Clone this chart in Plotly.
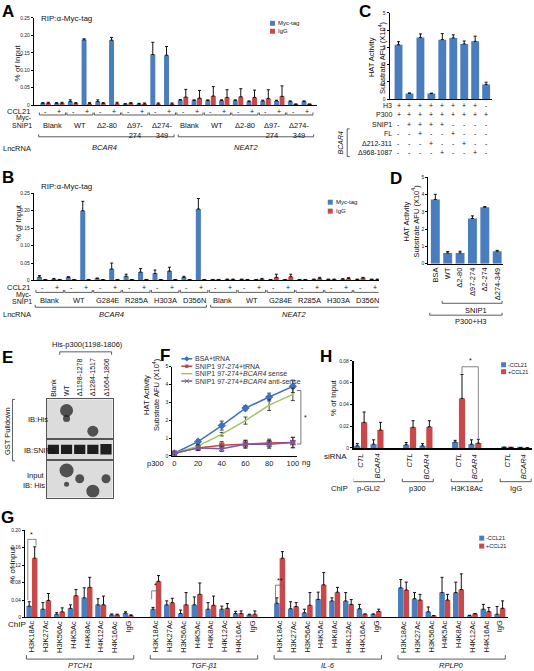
import plotly.graph_objects as go

W, H = 534, 671
FONT = "Liberation Sans, Arial, Helvetica, sans-serif"
BLUE = "#4a7dbd"
RED = "#c9484a"
ERR = "#111111"

# ---------------- data ----------------
# Panel A
A_conditions = ["Blank", "WT", "Δ2-80", "Δ97-<br>274", "Δ274-<br>349"]
A_lncrna = ["BCAR4", "NEAT2"]
A_ccl21 = ["-", "+"]
A_myc = [0.005, 0.005, 0.010, 0.187, 0.010, 0.186, 0.003, 0.003, 0.145, 0.143,
         0.014, 0.013, 0.013, 0.013, 0.013, 0.010, 0.012, 0.012, 0.010, 0.010]
A_myc_err = [0.002, 0.002, 0.005, 0.003, 0.005, 0.008, 0.001, 0.002, 0.035, 0.025,
             0.002, 0.002, 0.002, 0.002, 0.002, 0.002, 0.002, 0.002, 0.002, 0.002]
A_igg = [0.005, 0.005, 0.005, 0.004, 0.005, 0.004, 0.005, 0.003, 0.003, 0.003,
         0.023, 0.020, 0.026, 0.022, 0.024, 0.022, 0.019, 0.025, 0.002, 0.002]
A_igg_err = [0.003, 0.003, 0.002, 0.003, 0.002, 0.004, 0.002, 0.003, 0.003, 0.003,
             0.022, 0.022, 0.027, 0.022, 0.023, 0.021, 0.025, 0.030, 0.001, 0.001]

# Panel B
B_conditions = ["Blank", "WT", "G284E", "R285A", "H303A", "D356N"]
B_myc = [0.010, 0.004, 0.009, 0.200, 0.006, 0.033, 0.012, 0.024, 0.020, 0.027, 0.009, 0.205,
         0.002, 0.003, 0.003, 0.002, 0.002, 0.002, 0.002, 0.003, 0.003, 0.004, 0.003, 0.003]
B_myc_err = [0.004, 0.002, 0.002, 0.027, 0.001, 0.017, 0.006, 0.010, 0.010, 0.011, 0.003, 0.030,
             0.001, 0.001, 0.001, 0.001, 0.001, 0.001, 0.001, 0.001, 0.001, 0.001, 0.001, 0.001]
B_igg = [0.002] * 12 + [0.002, 0.003, 0.002, 0.004, 0.009, 0.011, 0.002, 0.006, 0.003, 0.006, 0.007, 0.003]
B_igg_err = [0.001] * 12 + [0.001, 0.001, 0.001, 0.002, 0.009, 0.007, 0.001, 0.003, 0.001, 0.002, 0.002, 0.001]

# Panel C
C_values = [3.15, 0.33, 3.58, 0.32, 3.45, 3.55, 3.20, 3.35, 0.85]
C_err = [0.18, 0.03, 0.20, 0.03, 0.35, 0.18, 0.17, 0.30, 0.13]
C_row_names = ["H3", "P300", "SNIP1", "FL", "Δ212-311", "Δ968-1087"]
C_rows = [
    ["+", "+", "+", "+", "+", "+", "+", "+", "-"],
    ["+", "+", "+", "+", "+", "+", "+", "+", "+"],
    ["-", "+", "+", "+", "+", "-", "-", "-", "-"],
    ["-", "-", "+", "-", "-", "+", "-", "-", "-"],
    ["-", "-", "-", "+", "-", "-", "+", "-", "-"],
    ["-", "-", "-", "-", "+", "-", "-", "+", "-"],
]

# Panel D
D_labels = ["BSA", "WT", "Δ2-80", "Δ97-274", "Δ2-274", "Δ274-349"]
D_values = [3.72, 0.62, 0.62, 2.62, 3.27, 0.72]
D_err = [0.30, 0.08, 0.10, 0.15, 0.04, 0.05]

# Panel E (blot band positions, lane index / relative height / blob size)
E_lanes = ["Blank", "WT", "Δ1198-1278", "Δ1284-1517", "Δ1664-1806"]
E_his_lane = [1, 1, 3]
E_his_pos = [0.72, 0.52, 0.2]
E_his_size = [13, 7, 11]
E_snip_lane = [0, 1, 2, 3, 4]
E_snip_base = [0.28, 0.28, 0.28, 0.28, 0.26]
E_snip_h = [0.45, 0.45, 0.45, 0.45, 0.5]
E_inp_lane = [1, 1, 2, 3, 4]
E_inp_pos = [0.72, 0.35, 0.5, 0.17, 0.5]
E_inp_size = [14, 5, 9, 13, 9]

# Panel F
F_x = [0, 20, 40, 60, 80, 100]
F_names = ["BSA+tRNA", "SNIP1 97-274+tRNA", "SNIP1 97-274+<i>BCAR4</i> sense",
           "SNIP1 97-274+<i>BCAR4</i> anti-sense"]
F_bsa = [0.15, 0.80, 1.70, 2.68, 3.30, 3.90]
F_bsa_err = [0.08, 0.12, 0.25, 0.15, 0.22, 0.35]
F_trna = [0.15, 0.45, 0.60, 0.68, 0.72, 0.75]
F_trna_err = [0.06, 0.15, 0.20, 0.20, 0.22, 0.28]
F_sense = [0.15, 0.55, 1.22, 1.98, 2.85, 3.45]
F_sense_err = [0.06, 0.08, 0.10, 0.20, 0.30, 0.35]
F_anti = [0.15, 0.45, 0.40, 0.65, 0.65, 0.75]
F_anti_err = [0.05, 0.15, 0.15, 0.22, 0.22, 0.30]

# Panel H
H_chip = ["p-GLI2", "p300", "H3K18Ac", "IgG"]
H_sirna = ["CTL", "BCAR4"]
H_minus = [0.002, 0.0035, 0.003, 0.002, 0.0055, 0.0035, 0.0006, 0.0003]
H_minus_err = [0.002, 0.004, 0.002, 0.002, 0.0015, 0.004, 0.0002, 0.0001]
H_plus = [0.0235, 0.0165, 0.019, 0.0195, 0.0455, 0.0045, 0.0004, 0.0002]
H_plus_err = [0.0095, 0.007, 0.006, 0.0055, 0.022, 0.0035, 0.0002, 0.0001]

# Panel G
G_genes = ["PTCH1", "TGF-β1", "IL-6", "RPLP0"]
G_marks = ["H3K18Ac", "H3K27Ac", "H3K56Ac", "H4K5Ac", "H4K8Ac", "H4K12Ac", "H4K16Ac", "IgG"]
G_minus = [0.026, 0.019, 0.0075, 0.021, 0.045, 0.029, 0.006, 0.010,
           0.019, 0.029, 0.009, 0.029, 0.019, 0.019, 0.009, 0.006,
           0.0325, 0.020, 0.011, 0.0415, 0.038, 0.038, 0.020, 0.0075,
           0.068, 0.043, 0.013, 0.057, 0.057, 0.0045, 0.019, 0.0075]
G_minus_err = [0.010, 0.015, 0.0035, 0.008, 0.023, 0.014, 0.002, 0.003,
               0.004, 0.009, 0.008, 0.018, 0.015, 0.007, 0.005, 0.0015,
               0.0125, 0.016, 0.008, 0.0165, 0.007, 0.019, 0.010, 0.0005,
               0.019, 0.014, 0.011, 0.035, 0.024, 0.0005, 0.011, 0.0175]
G_plus = [0.136, 0.039, 0.013, 0.050, 0.069, 0.029, 0.006, 0.0045,
          0.083, 0.034, 0.029, 0.053, 0.028, 0.021, 0.009, 0.0075,
          0.136, 0.025, 0.028, 0.075, 0.058, 0.030, 0.0075, 0.014,
          0.063, 0.040, 0.004, 0.040, 0.064, 0.0083, 0.0136, 0.021]
G_plus_err = [0.026, 0.016, 0.009, 0.014, 0.023, 0.020, 0.0015, 0.0015,
              0.013, 0.010, 0.028, 0.026, 0.021, 0.011, 0.006, 0.0075,
              0.015, 0.009, 0.029, 0.028, 0.011, 0.011, 0.0005, 0.005,
              0.018, 0.013, 0.0005, 0.013, 0.036, 0.0007, 0.0094, 0.017]
G_sig = {0: "*", 9: "*", 18: "**"}

# ---------------- helpers ----------------
ann, shapes = [], []
layout = {}
fig = go.Figure()


def X(p):
    return p / W


def Y(p):
    return 1 - p / H


def T(x, y, s, size=7, xa="center", ya="middle", ang=0, xref="paper", yref="paper", color="#111"):
    ann.append(dict(x=X(x) if xref == "paper" else x, y=Y(y) if yref == "paper" else y,
                    xref=xref, yref=yref, text=s, showarrow=False, textangle=ang,
                    xanchor=xa, yanchor=ya, borderpad=0,
                    font=dict(family=FONT, size=size, color=color)))


def P(points, xref="paper", yref="paper", w=0.8, color="#333"):
    pts = [(X(a) if xref == "paper" else a, Y(b) if yref == "paper" else b) for a, b in points]
    path = "M " + " L ".join(f"{a},{b}" for a, b in pts)
    shapes.append(dict(type="path", path=path, xref=xref, yref=yref,
                       line=dict(color=color, width=w)))


def R(x0, y0, x1, y1, color, layer="above"):
    shapes.append(dict(type="rect", xref="paper", yref="paper", x0=X(x0), x1=X(x1),
                       y0=Y(y0), y1=Y(y1), fillcolor=color, layer=layer,
                       line=dict(width=0, color=color)))


def bracket_up(x0, x1, y, t=2.5, xref="paper"):
    P([(x0, y - t), (x0, y), (x1, y), (x1, y - t)], xref=xref)


def axis(n, xd, yd, xr, yr, yt=None, ytt=None, yfs=5, yticks=True):
    xk = "xaxis" if n == 1 else f"xaxis{n}"
    yk = "yaxis" if n == 1 else f"yaxis{n}"
    layout[xk] = dict(domain=[X(xd[0]), X(xd[1])], range=xr, anchor="y" if n == 1 else f"y{n}",
                      showline=True, linecolor="black", linewidth=1, showticklabels=False,
                      ticks="", showgrid=False, zeroline=False, fixedrange=True)
    layout[yk] = dict(domain=[Y(yd[1]), Y(yd[0])], range=yr, anchor="x" if n == 1 else f"x{n}",
                      showline=True, linecolor="black", linewidth=1,
                      ticks="outside" if yticks else "", ticklen=2, tickwidth=0.8, tickcolor="black",
                      tickvals=yt, ticktext=ytt, showticklabels=yt is not None,
                      tickfont=dict(size=yfs, family=FONT, color="#222"),
                      showgrid=False, zeroline=False, fixedrange=True)


def ax(n):
    return ("x", "y") if n == 1 else (f"x{n}", f"y{n}")


def bars(n, xs, ys, err, color, offset, width):
    xa, ya = ax(n)
    fig.add_trace(go.Bar(x=xs, y=ys, xaxis=xa, yaxis=ya, width=width, offset=offset,
                         marker=dict(color=color, line=dict(width=0)),
                         error_y=dict(type="data", array=err, arrayminus=[0] * len(err),
                                      symmetric=False, color=ERR, thickness=1, width=1.5),
                         showlegend=False, hoverinfo="skip"))


# ---------------- Panel A ----------------
axis(1, (34, 318), (15, 103), [-0.85, 19.73], [0, 0.25],
     [0, 0.05, 0.10, 0.15, 0.20, 0.25], ["0", "0.05", "0.10", "0.15", "0.20", "0.25"])
A_x = list(range(len(A_myc)))
bars(1, A_x, A_myc, A_myc_err, BLUE, -0.38, 0.36)
bars(1, A_x, A_igg, A_igg_err, RED, 0.02, 0.36)
T(8, 9, "<b>A</b>", size=17, color="black")
T(40, 16, "RIP:α-Myc-tag", size=8, xa="left")
T(18, 60, "% of Input", size=8, ang=-90)
T(31, 109, "CCL21", size=7.5, xa="right")
T(33, 116.5, "Myc-", size=7, xa="right")
T(33, 124, "SNIP1", size=7, xa="right")
T(2, 147, "LncRNA", size=7.5, xa="left")
for i in A_x:
    T(i, 109, A_ccl21[i % 2], size=7, xref="x")
for k in range(len(A_x) // 2):
    bracket_up(2 * k - 0.45, 2 * k + 1.45, 113, xref="x")
    T(2 * k + 0.5, 118, A_conditions[k % len(A_conditions)], size=7.5, ya="top", xref="x")
bracket_up(-0.5, 9.35, 135, xref="x")
bracket_up(9.65, 19.5, 135, xref="x")
T(105, 146, "<i>BCAR4</i>", size=7.5)
T(247, 146, "<i>NEAT2</i>", size=7.5)
R(271, 18, 276, 23, BLUE)
R(271, 26, 276, 31, RED)
T(278, 20.5, "Myc-tag", size=6, xa="left")
T(278, 28.5, "IgG", size=6, xa="left")

# ---------------- Panel B ----------------
axis(2, (34, 380), (192, 280), [-0.59, 23.27], [0, 0.25],
     [0, 0.05, 0.10, 0.15, 0.20, 0.25], ["0", "0.05", "0.10", "0.15", "0.20", "0.25"])
B_x = list(range(len(B_myc)))
bars(2, B_x, B_myc, B_myc_err, BLUE, -0.38, 0.35)
bars(2, B_x, B_igg, B_igg_err, RED, 0.02, 0.35)
T(8, 176, "<b>B</b>", size=17, color="black")
T(40, 185, "RIP:α-Myc-tag", size=8, xa="left")
T(18, 221, "% of Input", size=8, ang=-90)
T(31, 287, "CCL21", size=7.5, xa="right")
T(33, 294.5, "Myc-", size=7, xa="right")
T(33, 301.5, "SNIP1", size=7, xa="right")
T(2, 314, "LncRNA", size=7.5, xa="left")
for i in B_x:
    T(i, 287, A_ccl21[i % 2], size=7, xref="x2")
for k in range(len(B_x) // 2):
    bracket_up(2 * k - 0.45, 2 * k + 1.45, 292, xref="x2")
    T(2 * k + 0.5, 300, B_conditions[k % len(B_conditions)], size=7.5, xref="x2")
bracket_up(-0.5, 11.35, 307, xref="x2")
bracket_up(11.65, 23.5, 307, xref="x2")
T(112, 314, "<i>BCAR4</i>", size=7.5)
T(295, 314, "<i>NEAT2</i>", size=7.5)
R(329, 198.5, 334, 203.5, BLUE)
R(329, 207.5, 334, 212.5, RED)
T(336, 201, "Myc-tag", size=6, xa="left")
T(336, 210, "IgG", size=6, xa="left")

# ---------------- Panel C ----------------
axis(3, (391, 494), (10, 97), [-0.82, 8.55], [0, 5],
     [0, 1, 2, 3, 4, 5], ["0", "1", "2", "3", "4", "5"])
C_x = list(range(len(C_values)))
bars(3, C_x, C_values, C_err, BLUE, -0.36, 0.72)
T(366, 9, "<b>C</b>", size=17, color="black")
T(373, 55, "HAT Activity", size=7.5, ang=-90)
T(383, 55, "Substrate AFU (X10<sup>4</sup>)", size=7.5, ang=-90)
C_row_y = [103, 112.6, 122.2, 131.8, 141.4, 151]
for r, name in enumerate(C_row_names):
    T(394, C_row_y[r], name, size=7, xa="right")
    for j, s in enumerate(C_rows[r]):
        T(j, C_row_y[r], s, size=7, xref="x3")
T(342, 141, "<i>BCAR4</i>", size=7, ang=-90)
P([(351, 127), (348.5, 127), (348.5, 155), (351, 155)])

# ---------------- Panel D ----------------
axis(4, (430, 505), (176, 263), [-0.56, 5.48], [0, 5],
     [0, 1, 2, 3, 4, 5], ["0", "1", "2", "3", "4", "5"])
D_x = list(range(len(D_values)))
bars(4, D_x, D_values, D_err, BLUE, -0.36, 0.72)
T(397, 177, "<b>D</b>", size=17, color="black")
T(408, 220, "HAT Activity", size=7.5, ang=-90)
T(417, 220, "Substrate AFU (X10<sup>4</sup>)", size=7.5, ang=-90)
for i, lab in enumerate(D_labels):
    T(i, 266, lab, size=7.5, ang=-90, ya="top", xref="x4")
bracket_up(0.55, 5.4, 303, xref="x4")
T(478, 310, "SNIP1", size=7.5)
bracket_up(-0.45, 5.4, 315, xref="x4")
T(472, 321, "P300+H3", size=7.5)

# ---------------- Panel E (blot) ----------------
for n, (y0, y1) in zip((5, 6, 7), ((400, 440), (440, 461), (461, 499))):
    axis(n, (47, 113), (y0, y1), [-0.5, 4.5], [0, 1], yticks=False)
    layout[f"xaxis{n}"].update(mirror=True, linecolor="#555", linewidth=1)
    layout[f"yaxis{n}"].update(mirror=True, linecolor="#555", linewidth=1)
    R(47, y0, 113, y1, "#dcdcdc", layer="below")
fig.add_trace(go.Scatter(x=E_his_lane, y=E_his_pos, xaxis="x5", yaxis="y5", mode="markers",
                         marker=dict(size=E_his_size, color="#141414", line=dict(width=0)),
                         showlegend=False, hoverinfo="skip"))
fig.add_trace(go.Bar(x=E_snip_lane, y=E_snip_h, base=E_snip_base, xaxis="x6", yaxis="y6",
                     width=0.85, marker=dict(color="#1e1e1e", line=dict(width=0)),
                     showlegend=False, hoverinfo="skip"))
fig.add_trace(go.Scatter(x=E_inp_lane, y=E_inp_pos, xaxis="x7", yaxis="y7", mode="markers",
                         marker=dict(size=E_inp_size, color="#141414", line=dict(width=0)),
                         showlegend=False, hoverinfo="skip"))
T(8, 358, "<b>E</b>", size=17, color="black")
T(88, 345, "His-p300(1198-1806)", size=7.5)
P([(60, 355), (60, 352), (112, 352), (112, 355)])
for i, lab in enumerate(E_lanes):
    T(i, 398, lab, size=7, ang=-90, ya="bottom", xref="x5")
T(49, 420, "IB:His", size=7.5, xa="right")
T(56, 452, "IB:SNIP1", size=7.5, xa="right")
T(46, 477, "Input", size=7.5, xa="right")
T(46, 487, "IB: His", size=7.5, xa="right")
T(7, 432, "GST Pulldown", size=7.5, ang=-90)
P([(15, 400), (12.5, 400), (12.5, 462), (15, 462)])

# ---------------- Panel F ----------------
axis(8, (173, 298), (367, 457), [-1.7, 103.4], [0, 5],
     [0, 1, 2, 3, 4, 5], ["0", "1", "2", "3", "4", "5"])
layout["xaxis8"].update(showticklabels=True, tickvals=F_x, ticktext=[str(v) for v in F_x],
                        tickfont=dict(size=7.5, family=FONT, color="#222"))
F_series = [(F_bsa, F_bsa_err, "#3f6fbf", "diamond", 5),
            (F_trna, F_trna_err, "#c0464a", "square", 4),
            (F_sense, F_sense_err, "#a5c262", "circle", 1),
            (F_anti, F_anti_err, "#7a5aa6", "x-thin", 5)]
for vals, err, col, sym, ms in F_series:
    fig.add_trace(go.Scatter(x=F_x, y=vals, xaxis="x8", yaxis="y8", mode="lines+markers",
                             line=dict(color=col, width=1.5),
                             marker=dict(symbol=sym, size=ms, color=col, line=dict(color=col, width=1.2)),
                             error_y=dict(type="data", array=err, color="#333", thickness=0.9, width=2),
                             showlegend=False, hoverinfo="skip"))
T(166, 356, "<b>F</b>", size=17, color="black")
T(147, 395, "HAT Activity", size=7.5, ang=-90)
T(157, 395, "Substrate AFU (X10<sup>4</sup>)", size=7.5, ang=-90)
T(156, 465, "p300", size=7.5)
T(307, 464, "ng", size=7.5)
leg_y = [359, 366.5, 374, 381.5]
for k, (vals, err, col, sym, ms) in enumerate(F_series):
    y = leg_y[k]
    P([(182, y), (193, y)], color=col, w=1.5)
    if sym == "diamond":
        P([(187.5, y - 2.2), (189.7, y), (187.5, y + 2.2), (185.3, y), (187.5, y - 2.2)], color=col, w=1)
        shapes[-1]["fillcolor"] = col
    elif sym == "square":
        R(185.8, y - 1.7, 189.2, y + 1.7, col)
    elif sym == "x-thin":
        P([(185.5, y - 2), (189.5, y + 2)], color=col, w=1)
        P([(185.5, y + 2), (189.5, y - 2)], color=col, w=1)
    T(195, y, F_names[k], size=7, xa="left", color="#333")
P([(298, 391), (302, 391), (302, 445), (298, 445)], color="#555")
T(307, 418, "*", size=7)

# ---------------- Panel H ----------------
axis(9, (355, 534), (361, 449), [-0.43, 10.5], [0, 0.08],
     [0, 0.02, 0.04, 0.06, 0.08], ["0", "0.02", "0.04", "0.06", "0.08"])
layout["xaxis9"]["linewidth"] = 1.5
layout["yaxis9"]["linewidth"] = 1.5
H_x = [3 * g + i for g in range(len(H_chip)) for i in range(len(H_sirna))]
bars(9, H_x, H_minus, H_minus_err, BLUE, -0.4, 0.38)
bars(9, H_x, H_plus, H_plus_err, RED, 0.02, 0.38)
T(327, 357, "<b>H</b>", size=17, color="black")
T(335, 398, "% of Input", size=8, ang=-90)
T(337, 458, "siRNA", size=8)
for j, xv in enumerate(H_x):
    T(xv, 454, "<i>" + H_sirna[j % 2] + "</i>", size=7.5, ang=-90, ya="top", xref="x9")
T(341, 490, "ChIP", size=7.5)
for g, name in enumerate(H_chip):
    bracket_up(3 * g - 0.45, 3 * g + 1.45, 483, t=3, xref="x9")
    T(3 * g + 0.5, 490, name, size=7.5, xref="x9")
# significance H3K18Ac CTL vs BCAR4 (+CCL21)
h_top = 0.0745
P([(6.21, H_plus[4] + H_plus_err[4] + 0.001), (6.21, h_top), (7.21, h_top),
   (7.21, H_plus[5] + H_plus_err[5] + 0.001)], xref="x9", yref="y9", color="#666")
T(6.71, h_top + 0.002, "*", size=7, xref="x9", yref="y9", ya="bottom")
R(503, 362.5, 508, 367.5, BLUE)
R(503, 369.5, 508, 374.5, RED)
T(509, 365, "-CCL21", size=5.5, xa="left")
T(509, 372, "+CCL21", size=5.5, xa="left")

# ---------------- Panel G ----------------
axis(10, (25, 510), (532, 620), [-0.51, 34.6], [0, 0.20],
     [0, 0.04, 0.08, 0.12, 0.16, 0.20], ["0", "0.04", "0.08", "0.12", "0.16", "0.20"])
G_x = [9 * g + i for g in range(len(G_genes)) for i in range(len(G_marks))]
bars(10, G_x, G_minus, G_minus_err, BLUE, -0.4, 0.4)
bars(10, G_x, G_plus, G_plus_err, RED, 0.0, 0.4)
T(8, 519, "<b>G</b>", size=17, color="black")
T(13, 566, "% of Input", size=8, ang=-90)
T(7, 627, "ChIP", size=8, xa="left")
for j, xv in enumerate(G_x):
    T(xv, 622, G_marks[j % len(G_marks)], size=7.5, ang=-90, ya="top", xref="x10")
for g, name in enumerate(G_genes):
    bracket_up(9 * g - 0.4, 9 * g + 7.4, 662, t=4, xref="x10")
    T(9 * g + 3.5, 668, "<i>" + name + "</i>", size=7.5, xref="x10")
for idx, star in G_sig.items():
    top = G_plus[idx] + G_plus_err[idx] + 0.017
    P([(idx - 0.3, G_minus[idx] + G_minus_err[idx] + 0.004), (idx - 0.3, top), (idx + 0.3, top),
       (idx + 0.3, G_plus[idx] + G_plus_err[idx] + 0.003)], xref="x10", yref="y10", color="#666")
    T(idx, top + 0.001, star, size=7, xref="x10", yref="y10", ya="bottom")
R(481, 537.5, 486, 542.5, BLUE)
R(481, 545.5, 486, 550.5, RED)
T(487, 540, "-CCL21", size=5.5, xa="left")
T(487, 548, "+CCL21", size=5.5, xa="left")

fig.update_layout(width=W, height=H, margin=dict(l=0, r=0, t=0, b=0), autosize=False,
                  paper_bgcolor="white", plot_bgcolor="rgba(0,0,0,0)", showlegend=False,
                  barmode="overlay", font=dict(family=FONT), annotations=ann, shapes=shapes,
                  **layout)
fig.write_html("out.html", config={"displayModeBar": False},
               post_script="document.body.style.margin='0px';")
